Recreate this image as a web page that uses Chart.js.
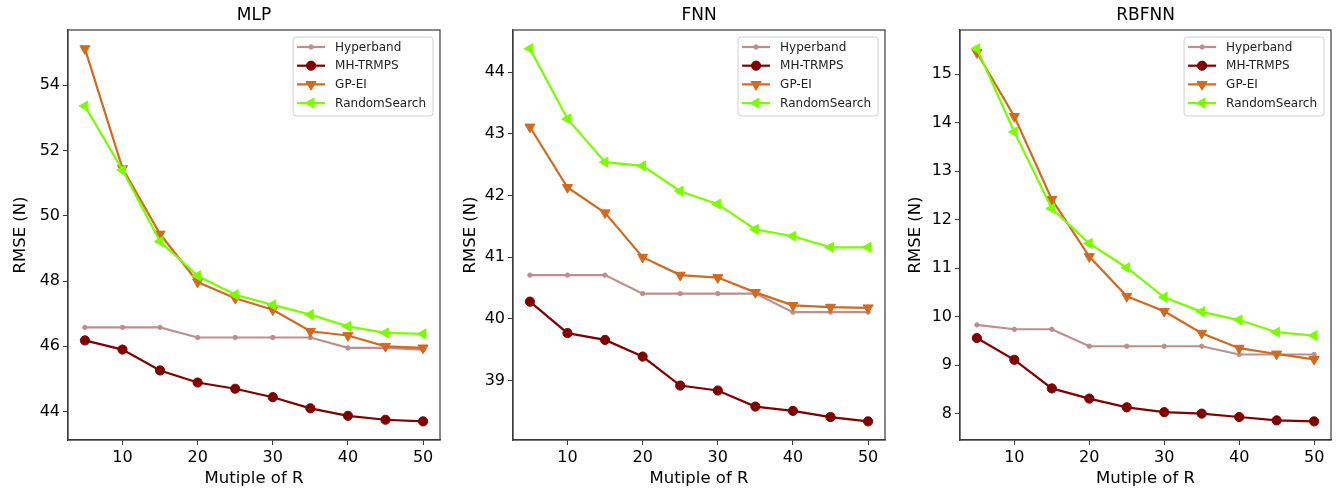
<!DOCTYPE html>
<html><head><meta charset="utf-8">
<script src="https://cdn.jsdelivr.net/npm/chart.js@4.4.0/dist/chart.umd.min.js"></script>
<style>
html,body{margin:0;padding:0;background:#fff;width:1339px;height:495px;overflow:hidden}
.p{position:absolute;top:0;height:495px}
</style></head><body>
<div class="p" style="left:0;width:450px"><canvas id="c1"></canvas></div>
<div class="p" style="left:450px;width:445px"><canvas id="c2"></canvas></div>
<div class="p" style="left:895px;width:444px"><canvas id="c3"></canvas></div>
<script>
// ---- data ----
const xValues = [5, 10, 15, 20, 25, 30, 35, 40, 45, 50];
const xTicks = [10, 20, 30, 40, 50];
const seriesNames = ['Hyperband', 'MH-TRMPS', 'GP-EI', 'RandomSearch'];
const panelTitles = ['MLP', 'FNN', 'RBFNN'];

const mlpHyperband    = [46.58, 46.58, 46.58, 46.27, 46.27, 46.27, 46.27, 45.95, 45.95, 45.90];
const mlpMHTRMPS      = [46.18, 45.90, 45.26, 44.89, 44.70, 44.44, 44.10, 43.87, 43.75, 43.70];
const mlpGPEI         = [55.12, 51.45, 49.44, 47.97, 47.47, 47.12, 46.46, 46.33, 46.00, 45.95];
const mlpRandomSearch = [53.36, 51.40, 49.21, 48.16, 47.58, 47.27, 46.97, 46.61, 46.41, 46.38];
const mlpTicks = [44, 46, 48, 50, 52, 54];

const fnnHyperband    = [40.71, 40.71, 40.71, 40.41, 40.41, 40.41, 40.41, 40.11, 40.11, 40.11];
const fnnMHTRMPS      = [40.28, 39.77, 39.66, 39.39, 38.92, 38.84, 38.58, 38.51, 38.41, 38.34];
const fnnGPEI         = [43.11, 42.13, 41.72, 41.00, 40.71, 40.67, 40.43, 40.22, 40.19, 40.18];
const fnnRandomSearch = [44.38, 43.24, 42.54, 42.48, 42.07, 41.86, 41.45, 41.34, 41.16, 41.16];
const fnnTicks = [39, 40, 41, 42, 43, 44];

const rbfnnHyperband    = [9.83, 9.74, 9.74, 9.39, 9.39, 9.39, 9.39, 9.22, 9.22, 9.22];
const rbfnnMHTRMPS      = [9.56, 9.11, 8.52, 8.31, 8.13, 8.03, 8.00, 7.93, 7.86, 7.84];
const rbfnnGPEI         = [15.45, 14.13, 12.42, 11.24, 10.42, 10.11, 9.66, 9.35, 9.23, 9.12];
const rbfnnRandomSearch = [15.53, 13.81, 12.23, 11.51, 11.01, 10.40, 10.10, 9.93, 9.68, 9.61];
const rbfnnTicks = [8, 9, 10, 11, 12, 13, 14, 15];

// ---- styles ----
const styles = [
  {color: '#bc8f8f', style: 'circle', radius: 2.2, rot: 0, width: 2.2, order: 3},
  {color: '#800000', style: 'circle', radius: 4.6, rot: 0, width: 2.2, order: 2},
  {color: '#d2691e', style: 'triangle', radius: 5.8, rot: 180, width: 2.2, order: 1},
  {color: '#7cfc00', style: 'triangle', radius: 5.8, rot: -90, width: 2.2, order: 0}
];
const FONT = '"DejaVu Sans", sans-serif';
const AXC = '#3a3a3a';

const decor = {
  id: 'decor',
  afterDraw(chart, args, opts) {
    const {ctx, chartArea: a} = chart;
    ctx.save();
    ctx.strokeStyle = AXC; ctx.lineWidth = 1.2;
    ctx.strokeRect(a.left, a.top, a.right - a.left, a.bottom - a.top);
    ctx.fillStyle = '#000';
    ctx.font = '17px ' + FONT;
    ctx.textAlign = 'center'; ctx.textBaseline = 'middle';
    ctx.fillText(opts.title, (a.left + a.right) / 2, 16);
    // legend
    ctx.font = '12px ' + FONT;
    let tw = 0;
    chart.data.datasets.forEach(d => { tw = Math.max(tw, ctx.measureText(d.label).width); });
    const bw = 42 + tw + 7, bh = 79;
    const bx = a.right - 7 - bw, by = a.top + 7;
    ctx.fillStyle = 'rgba(255,255,255,0.85)';
    ctx.strokeStyle = '#d0d0d0'; ctx.lineWidth = 1;
    ctx.beginPath();
    if (ctx.roundRect) ctx.roundRect(bx, by, bw, bh, 3); else ctx.rect(bx, by, bw, bh);
    ctx.fill(); ctx.stroke();
    chart.data.datasets.forEach((d, i) => {
      const y = by + 10 + i * 18.7;
      ctx.strokeStyle = d.borderColor; ctx.lineWidth = d.borderWidth;
      ctx.beginPath(); ctx.moveTo(bx + 4, y); ctx.lineTo(bx + 32, y); ctx.stroke();
      ctx.fillStyle = d.pointBackgroundColor;
      ctx.strokeStyle = d.pointBorderColor;
      ctx.lineWidth = 1;
      Chart.helpers.drawPoint(ctx, {pointStyle: d.pointStyle, rotation: d.pointRotation, radius: d.pointRadius, borderWidth: 1}, bx + 18, y);
      ctx.fillStyle = '#222'; ctx.textAlign = 'left'; ctx.textBaseline = 'middle';
      ctx.fillText(d.label, bx + 42, y + 0.5);
    });
    ctx.restore();
  }
};

function makePanel(id, title, seriesArr, ticks, yWidth, rightPad) {
  let lo = Infinity, hi = -Infinity;
  seriesArr.forEach(s => s.forEach(v => { lo = Math.min(lo, v); hi = Math.max(hi, v); }));
  const m = (hi - lo) * 0.05;
  const xm = (xValues[xValues.length - 1] - xValues[0]) * 0.05;
  const datasets = seriesArr.map((s, i) => {
    const st = styles[i];
    return {
      label: seriesNames[i],
      data: s.map((v, j) => ({x: xValues[j], y: v})),
      borderColor: st.color, backgroundColor: st.color,
      pointBackgroundColor: st.color, pointBorderColor: st.color,
      borderWidth: st.width, pointStyle: st.style, pointRadius: st.radius,
      pointRotation: st.rot, pointBorderWidth: 1, order: st.order,
      tension: 0, fill: false
    };
  });
  return new Chart(document.getElementById(id), {
    type: 'line',
    data: {datasets},
    options: {
      responsive: true, maintainAspectRatio: false, animation: false,
      layout: {padding: {top: 30, right: rightPad, left: 0, bottom: 0}},
      plugins: {legend: {display: false}, tooltip: {enabled: false}, decor: {title}},
      scales: {
        x: {
          type: 'linear', min: xValues[0] - xm, max: xValues[xValues.length - 1] + xm,
          afterBuildTicks: s => { s.ticks = xTicks.map(v => ({value: v})); },
          afterFit: s => { s.height = 55; },
          grid: {drawOnChartArea: false, drawTicks: true, tickLength: 5, color: AXC, lineWidth: 1},
          border: {display: true, color: AXC, width: 1.2},
          ticks: {color: '#000', font: {family: FONT, size: 16}, padding: 3, maxRotation: 0},
          title: {display: true, text: 'Mutiple of R', color: '#000', font: {family: FONT, size: 16.5}, padding: {top: 0, bottom: 6}}
        },
        y: {
          type: 'linear', min: lo - m, max: hi + m,
          afterBuildTicks: s => { s.ticks = ticks.map(v => ({value: v})); },
          afterFit: s => { s.width = yWidth; },
          grid: {drawOnChartArea: false, drawTicks: true, tickLength: 5, color: AXC, lineWidth: 1},
          border: {display: true, color: AXC, width: 1.2},
          ticks: {color: '#000', font: {family: FONT, size: 16}, padding: 3},
          title: {display: true, text: 'RMSE (N)', color: '#000', font: {family: FONT, size: 16.5}, padding: {top: 11, bottom: 4}}
        }
      }
    },
    plugins: [decor]
  });
}

makePanel('c1', panelTitles[0], [mlpHyperband, mlpMHTRMPS, mlpGPEI, mlpRandomSearch], mlpTicks, 68, 10);
makePanel('c2', panelTitles[1], [fnnHyperband, fnnMHTRMPS, fnnGPEI, fnnRandomSearch], fnnTicks, 63, 10);
makePanel('c3', panelTitles[2], [rbfnnHyperband, rbfnnMHTRMPS, rbfnnGPEI, rbfnnRandomSearch], rbfnnTicks, 65, 8);
</script>
</body></html>
